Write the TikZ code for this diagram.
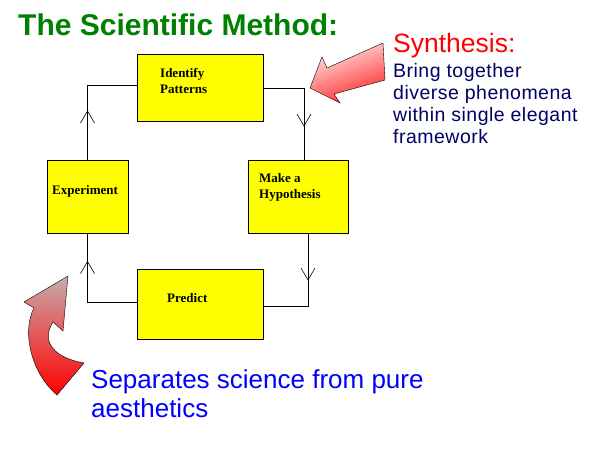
\documentclass[tikz,border=0pt]{standalone}
\usepackage{fontspec}
\setmainfont{Liberation Serif}
\setsansfont{Liberation Sans}
\usetikzlibrary{decorations.markings}
\definecolor{titlegreen}{RGB}{0,128,0}
\definecolor{navyblue}{RGB}{0,0,102}
\definecolor{boxyellow}{RGB}{255,255,0}
\definecolor{dustypink}{RGB}{200,172,172}
\begin{document}
\begin{tikzpicture}[x=1pt,y=-1pt,
  % steps of the cycle: yellow boxes, text set in near their top left
  stepbox/.style={draw, fill=boxyellow, line width=0.9pt, inner sep=0pt, outer sep=0pt},
  steptxt/.style={font=\fontsize{13}{16}\selectfont\bfseries, align=left,
                  inner sep=0pt, anchor=base west},   % base = last line
  % cycle connectors with an open vee part way along (position = distance)
  cyc/.style={draw, line width=0.8pt},
  vee at/.style={postaction={decorate, decoration={markings,
      mark=at position #1 with {\draw[line width=0.6pt] (-12pt,7pt) -- (0pt,0pt) -- (-12pt,-7pt);}}}},
  % free text + shaded block arrows
  say/.style={font=\sffamily, align=left, inner sep=0pt, anchor=base west},
  blockarrow/.style={draw=black, line width=0.4pt, line join=miter},
  ]
  \path[use as bounding box, fill=white] (0,0) rectangle (600,450);
  % ---- title -------------------------------------------------------------------
  \node[say, font=\sffamily\bfseries\fontsize{30}{36}\selectfont, text=titlegreen]
    (title) at (18,35) {The Scientific Method:};
  % ---- the four steps ------------------------------------------------------------
  \node[stepbox, minimum width=126, minimum height=67] (idp) at (200,87.5) {};
  \node[stepbox, minimum width=81,  minimum height=73] (exp) at (87.5,196.5) {};
  \node[stepbox, minimum width=100, minimum height=73] (hyp) at (298,196.5) {};
  \node[stepbox, minimum width=126, minimum height=70] (prd) at (200,304) {};
  \node[steptxt] (idptxt) at (160,93)  {Identify\\Patterns};
  \node[steptxt] (exptxt) at (52,194)  {Experiment};
  \node[steptxt] (hyptxt) at (259,198) {Make a\\Hypothesis};
  \node[steptxt] (prdtxt) at (167,302) {Predict};
  % ---- connectors round the cycle ------------------------------------------------
  \draw[cyc, vee at=49pt] (exp.north) |- ([yshift=2.5pt]idp.west);
  \draw[cyc, vee at=79pt] ([yshift=-0.5pt]idp.east) -| ([xshift=6pt]hyp.north);
  \draw[cyc, vee at=47pt] ([xshift=10pt]hyp.south) |- ([yshift=-2pt]prd.east);
  \draw[cyc, vee at=90pt] ([yshift=2pt]prd.west) -| (exp.south);
  % ---- synthesis callout -----------------------------------------------------------
  \draw[blockarrow, top color=red!8, bottom color=red!85, shading angle=20]
    (383,43) -- (385,80) -- (334,94) -- (340,103) -- (310,88) -- (322,57) -- (327,68) -- cycle;
  \node[say, font=\sffamily\fontsize{26.5}{30}\selectfont, text=red] (synhead) at (393,52) {Synthesis:};
  \node[say, font=\sffamily\fontsize{19.5}{22}\selectfont\addfontfeatures{LetterSpace=2.5},
    text=navyblue] (synbody) at (393,143)
    {Bring together\\diverse phenomena\\within single elegant\\framework};
  % ---- prediction callout --------------------------------------------------------
  \draw[blockarrow, top color=dustypink, bottom color=red]
    (68,276) -- (24,302) -- (34,308) .. controls (22,330) and (30,372) .. (57,395)
    -- (84,363) .. controls (55,358) and (40,342) .. (53,322) -- (63,331) -- cycle;
  \node[say, font=\sffamily\fontsize{26}{29}\selectfont, text=blue] (sepnote) at (91,417)
    {Separates science from pure\\aesthetics};
\end{tikzpicture}
\end{document}
